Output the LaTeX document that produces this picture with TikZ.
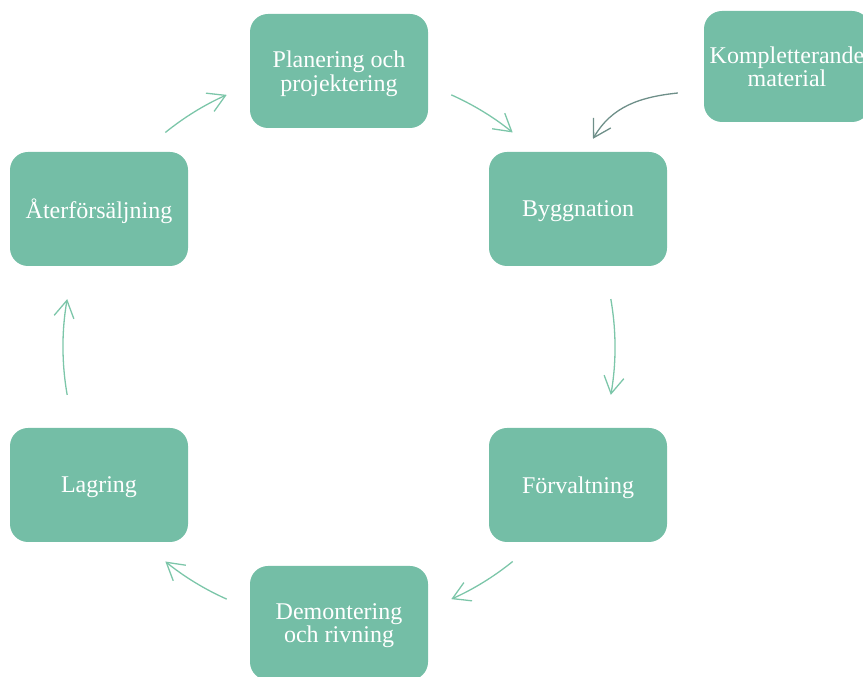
\documentclass[tikz,border=0pt]{standalone}
\usepackage{fontspec}
\setmainfont{Liberation Serif}
\usetikzlibrary{arrows.meta}

\definecolor{boxgreen}{HTML}{74BEA6}
\definecolor{arrowgreen}{HTML}{7CC6A9}
\definecolor{arrowgrey}{HTML}{6E8F89}

\begin{document}
\begin{tikzpicture}[x=1pt,y=1pt]
  \tikzstyle{phase}=[draw=none,fill=boxgreen,rounded corners=18pt,
    minimum width=178pt,minimum height=114pt,align=center,text=white,
    text depth=0pt,font=\fontsize{24}{23.5}\selectfont]
  \tikzstyle{cyclearrow}=[arrowgreen,line width=1.3pt,
    -{Straight Barb[length=17pt,width=20pt]}]
  \useasboundingbox (0,0) rectangle (863,677);

  \coordinate (cyc) at (339,330);

  \node[phase] (plan) at (339,606) {Planering och\\projektering};
  \node[phase] (bygg) at (578,468) {Byggnation};
  \node[phase] (forv) at (578,192) {Förvaltning};
  \node[phase] (demo) at (339,54)  {Demontering\\och rivning};
  \node[phase] (lagr) at (99,192)  {Lagring};
  \node[phase] (ater) at (99,468)  {Återförsäljning};
  \node[phase,minimum width=166pt,minimum height=111pt] (komp) at (787,610.5)
    {Kompletterande\\material};

  % the cycle, clockwise
  \foreach \a/\b in {66/51, 10/-10, -51/-66, -114/-129, 190/170, 129/114}
    \draw[cyclearrow] (cyc) ++(\a:276) arc[start angle=\a,end angle=\b,radius=276];

  \draw[cyclearrow,arrowgrey] ([xshift=-26pt,yshift=-26.5pt]komp.west)
    to[out=186,in=60] ([xshift=15pt,yshift=13pt]bygg.north);
\end{tikzpicture}
\end{document}
